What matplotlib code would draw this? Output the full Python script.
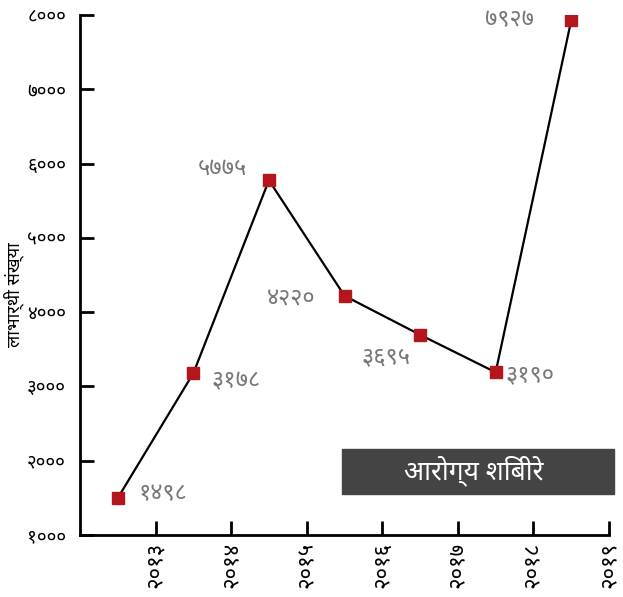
import matplotlib
matplotlib.use("Agg")
import matplotlib.pyplot as plt
from matplotlib import font_manager

# --- data ---
years = [2012.5, 2013.5, 2014.5, 2015.5, 2016.5, 2017.5, 2018.5]
beneficiaries = [1498, 3178, 5775, 4220, 3695, 3190, 7927]
tick_years = [2013, 2014, 2015, 2016, 2017, 2018, 2019]
y_ticks = [1000, 2000, 3000, 4000, 5000, 6000, 7000, 8000]
series_name = "आरोग्य शिबीरे"
y_title = "लाभार्थी संख्या"

NEP = str.maketrans("0123456789", "०१२३४५६७८९")


def nep(n):
    return str(n).translate(NEP)


# pick a Devanagari family that is installed
installed = {f.name for f in font_manager.fontManager.ttflist}
deva = "DejaVu Sans"
for name in ["Noto Sans Devanagari", "Hind", "Mukta", "Poppins", "Amiko"]:
    if name in installed:
        deva = name
        break
plt.rcParams["font.family"] = [deva, "DejaVu Sans"]

fig = plt.figure(figsize=(6.23, 5.97), dpi=100)
ax = fig.add_axes([80 / 623, 62 / 597, 529 / 623, 520 / 597])

ax.plot(years, beneficiaries, color="black", lw=1.6, zorder=2)
ax.plot(years, beneficiaries, "s", color="#b5161e", ms=9, zorder=3)

# value labels: (dx, dy) in points, ha
offsets = [(15, 3, "left"), (13, -6, "left"), (-16, 8, "right"),
           (-21, -2, "right"), (-7, -16, "right"), (7, -2, "left"),
           (-27, 0, "right")]
for x, v, (dx, dy, ha) in zip(years, beneficiaries, offsets):
    ax.annotate(nep(v), (x, v), xytext=(dx, dy), textcoords="offset points",
                ha=ha, va="center", fontsize=17, color="#777777")

ax.set_xlim(2012, 2019)
ax.set_ylim(1000, 8000)
ax.set_xticks(tick_years)
ax.set_xticklabels([nep(t) for t in tick_years], rotation=90, fontsize=16)
ax.set_yticks(y_ticks)
ax.set_yticklabels([nep(t) for t in y_ticks], fontsize=13.5)
ax.tick_params(direction="in", length=10, width=2, pad=10)
ax.tick_params(axis="x", pad=5)
for s in ("top", "right"):
    ax.spines[s].set_visible(False)
for s in ("left", "bottom"):
    ax.spines[s].set_linewidth(2)

fig.text(14 / 623, 1 - 295 / 597, y_title, rotation=90, ha="center",
         va="center", fontsize=13)

# legend box
fig.patches.append(plt.Rectangle((342 / 623, 1 - 494 / 597), 272 / 623,
                                 45 / 597, transform=fig.transFigure,
                                 color="#444444"))
fig.text(474 / 623, 1 - 471 / 597, series_name, color="white", ha="center",
         va="center", fontsize=19)

fig.savefig("out.png", dpi=100)
